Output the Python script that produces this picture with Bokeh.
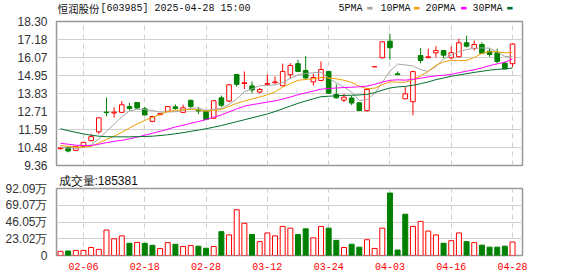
from bokeh.plotting import figure
from bokeh.layouts import column
from bokeh.models import FixedTicker, Label, ColumnDataSource, Range1d, Title
from bokeh.embed import file_html
from bokeh.resources import INLINE

# ---------------- data ----------------
dates = ["01-24", "01-27", "02-05", "02-06", "02-07", "02-10", "02-11", "02-12", "02-13", "02-14",
         "02-17", "02-18", "02-19", "02-20", "02-21", "02-24", "02-25", "02-26", "02-27", "02-28",
         "03-03", "03-04", "03-05", "03-06", "03-07", "03-10", "03-11", "03-12", "03-13", "03-14",
         "03-17", "03-18", "03-19", "03-20", "03-21", "03-24", "03-25", "03-26", "03-27", "03-28",
         "03-31", "04-01", "04-02", "04-03", "04-07", "04-08", "04-09", "04-10", "04-11", "04-14",
         "04-15", "04-16", "04-17", "04-18", "04-21", "04-22", "04-23", "04-24", "04-25", "04-28"]

opens = [10.40, 10.50, 10.30, 10.55, 10.90, 11.45, 12.68, 12.62, 12.66, 13.02,
         13.27, 12.88, 12.10, 12.52, 12.72, 13.00, 12.66, 13.40, 12.80, 12.72,
         12.30, 13.56, 13.36, 15.01, 14.45, 14.30, 13.92, 14.40, 14.50, 14.31,
         15.00, 15.68, 15.26, 14.55, 14.64, 15.20, 13.77, 13.42, 13.55, 13.25,
         12.77, 15.49, 16.05, 17.08, 15.05, 13.50, 13.32, 16.19, 16.05, 16.36,
         16.50, 16.05, 16.11, 16.98, 16.62, 16.87, 16.46, 16.36, 15.71, 15.68]
highs = [10.50, 10.55, 10.56, 10.82, 11.33, 12.34, 13.58, 12.98, 13.36, 13.25,
         13.30, 13.00, 12.45, 12.62, 13.04, 13.15, 13.13, 13.47, 12.98, 12.80,
         13.40, 13.70, 14.40, 15.05, 15.20, 14.57, 14.17, 15.01, 14.89, 15.68,
         15.71, 15.92, 16.15, 15.05, 15.82, 15.22, 14.39, 13.81, 13.70, 13.28,
         14.10, 15.49, 17.05, 17.54, 15.20, 14.23, 15.24, 16.65, 16.61, 16.77,
         16.52, 16.75, 17.23, 17.42, 17.12, 17.01, 16.61, 16.61, 15.82, 16.95]
lows = [10.35, 10.18, 10.28, 10.52, 10.88, 11.33, 12.42, 12.32, 12.62, 12.77,
        12.85, 12.48, 12.05, 12.48, 12.70, 12.82, 12.62, 12.90, 12.55, 12.18,
        12.25, 12.98, 13.30, 14.25, 14.10, 13.85, 13.83, 14.32, 14.43, 14.28,
        14.74, 15.15, 14.68, 14.32, 14.60, 13.80, 13.52, 13.30, 13.10, 12.75,
        12.70, 15.49, 16.00, 15.93, 15.00, 13.48, 12.48, 15.71, 16.02, 16.08,
        16.03, 15.94, 16.08, 16.69, 16.50, 16.30, 16.11, 15.71, 15.33, 15.47]
closes = [10.45, 10.26, 10.53, 10.80, 11.15, 12.32, 12.64, 12.67, 13.13, 12.90,
          12.93, 12.50, 12.40, 12.58, 13.02, 12.90, 12.94, 13.03, 12.75, 12.22,
          13.38, 13.10, 14.37, 14.40, 14.50, 14.05, 14.08, 14.45, 14.55, 15.20,
          15.57, 15.20, 14.80, 14.82, 15.32, 13.85, 13.56, 13.60, 13.24, 12.77,
          14.08, 15.49, 17.04, 16.67, 15.00, 13.81, 15.19, 15.88, 16.11, 16.50,
          16.21, 16.36, 16.98, 16.77, 16.87, 16.33, 16.25, 15.82, 15.36, 16.90]
prev_close_first = 10.38

ma5 = [10.50, 10.45, 10.43, 10.48, 10.64, 11.01, 11.49, 11.92, 12.38, 12.74,
       12.86, 12.83, 12.78, 12.67, 12.68, 12.70, 12.78, 12.91, 12.94, 12.78,
       12.86, 12.90, 13.16, 13.49, 13.94, 14.12, 14.31, 14.33, 14.37, 14.51,
       14.77, 14.99, 15.07, 15.12, 15.15, 14.80, 14.48, 14.23, 13.91, 13.40,
       13.45, 13.83, 14.52, 15.21, 15.66, 15.60, 15.54, 15.31, 15.20, 15.50,
       15.98, 16.21, 16.43, 16.56, 16.64, 16.66, 16.64, 16.41, 16.13, 16.13]
ma10 = [10.60, 10.55, 10.50, 10.50, 10.55, 10.75, 10.98, 11.18, 11.42, 11.69,
        11.94, 12.16, 12.35, 12.53, 12.71, 12.78, 12.81, 12.85, 12.81, 12.73,
        12.78, 12.84, 13.04, 13.22, 13.36, 13.49, 13.61, 13.75, 13.93, 14.23,
        14.44, 14.65, 14.70, 14.74, 14.83, 14.79, 14.74, 14.65, 14.52, 14.28,
        14.13, 14.16, 14.38, 14.56, 14.53, 14.53, 14.69, 14.92, 15.20, 15.58,
        15.79, 15.88, 15.87, 15.88, 16.07, 16.32, 16.43, 16.42, 16.35, 16.39]
ma20 = [10.74, 10.68, 10.62, 10.60, 10.60, 10.68, 10.78, 10.86, 10.92, 11.02,
        11.12, 11.24, 11.36, 11.48, 11.62, 11.75, 11.86, 11.98, 12.09, 12.21,
        12.36, 12.50, 12.69, 12.87, 13.04, 13.14, 13.21, 13.30, 13.37, 13.48,
        13.61, 13.75, 13.87, 13.98, 14.10, 14.14, 14.17, 14.20, 14.22, 14.25,
        14.29, 14.40, 14.54, 14.65, 14.68, 14.66, 14.71, 14.78, 14.86, 14.93,
        14.96, 15.02, 15.12, 15.22, 15.30, 15.42, 15.56, 15.67, 15.77, 15.98]
ma30 = [11.64, 11.52, 11.42, 11.32, 11.24, 11.18, 11.15, 11.14, 11.14, 11.14,
        11.15, 11.16, 11.18, 11.22, 11.27, 11.33, 11.40, 11.48, 11.56, 11.64,
        11.74, 11.84, 11.96, 12.08, 12.20, 12.32, 12.44, 12.56, 12.71, 12.88,
        13.05, 13.22, 13.36, 13.50, 13.63, 13.66, 13.69, 13.71, 13.72, 13.74,
        13.78, 13.88, 14.04, 14.17, 14.24, 14.27, 14.34, 14.44, 14.55, 14.69,
        14.79, 14.90, 14.98, 15.06, 15.14, 15.21, 15.28, 15.33, 15.36, 15.41]

volumes = [58000, 62000, 70000, 70000, 110000, 84000, 350000, 230000, 270000, 168000,
           180000, 168000, 140000, 97000, 177000, 155000, 124000, 137000, 128000, 100000,
           124000, 328000, 283000, 629000, 443000, 288000, 190000, 310000, 270000, 400000,
           376000, 288000, 367000, 243000, 400000, 376000, 208000, 110000, 155000, 115000,
           217000, 97000, 376000, 859000, 75000, 567000, 400000, 469000, 336000, 283000,
           168000, 204000, 310000, 190000, 177000, 142000, 115000, 115000, 128000, 185381]

price_ticks = [9.36, 10.48, 11.59, 12.71, 13.83, 14.95, 16.07, 17.18, 18.30]
vol_ticks = [0, 230225, 460450, 690675, 920900]
vol_tick_labels = ["0", "23.02万", "46.05万", "69.07万", "92.09万"]
date_tick_labels = ["02-06", "02-18", "02-28", "03-12", "03-24", "04-03", "04-16", "04-28"]

title_name = "恒润股份"
title_rest = "[603985] 2025-04-28 15:00"
ma_names = ["5PMA", "10PMA", "20PMA", "30PMA"]
vol_title = "成交量:185381"

# ---------------- styles ----------------
RED = "#ff0000"
GREEN = "#008000"
MA_COLORS = ["#a6a6a6", "#f0a000", "#ff00ff", "#006e2e"]
GRID = "#d0d0d0"
BORDER = "#999999"
TXT = "#333333"
LEFT = 56
RIGHT = 56

xs = list(range(len(dates)))
up = [c >= o for o, c in zip(opens, closes)]
cdl_color = [RED if u else GREEN for u in up]
cdl_fill = ["white" if u else GREEN for u in up]
prevs = [prev_close_first] + closes[:-1]
vup = [c >= pc for c, pc in zip(closes, prevs)]
vol_color = [RED if u else GREEN for u in vup]
vol_fill = ["white" if u else GREEN for u in vup]

src = ColumnDataSource(dict(
    x=xs, o=opens, h=highs, l=lows, c=closes,
    top=[max(o, c) for o, c in zip(opens, closes)],
    bot=[min(o, c) for o, c in zip(opens, closes)],
    col=cdl_color, fill=cdl_fill,
    ma5=ma5, ma10=ma10, ma20=ma20, ma30=ma30,
    vol=volumes, vcol=vol_color, vfill=vol_fill,
))

tick_idx = [dates.index(d) for d in date_tick_labels]
xr = Range1d(-0.52, 60.3)

# ---------------- header strip (title + MA legend) ----------------
HEADER_H = 15
h = figure(width=578, height=HEADER_H, x_range=Range1d(0, 1), y_range=Range1d(0, 1),
           output_backend="svg", toolbar_location=None,
           x_axis_location=None, y_axis_location=None,
           min_border_left=LEFT, min_border_right=RIGHT, min_border_top=0, min_border_bottom=0)
h.outline_line_color = None
h.grid.visible = False
h.border_fill_color = "white"
TY = 7.5   # vertical centre of the header texts (from the strip's bottom)
h.add_layout(Label(x=57 - LEFT, y=TY, x_units="screen", y_units="screen", text=title_name,
                   text_font="Noto Sans CJK SC", text_font_size="10.5px", text_color="#111",
                   text_baseline="middle"))
h.add_layout(Label(x=100 - LEFT, y=TY, x_units="screen", y_units="screen", text=title_rest,
                   text_font="Liberation Mono", text_font_size="10px", text_color="#111",
                   text_baseline="middle"))
leg_x = [338, 380, 425, 472]
sq_x = [366, 413, 460, 506]
for name, col, lx, sx in zip(ma_names, MA_COLORS, leg_x, sq_x):
    h.add_layout(Label(x=lx - LEFT, y=TY, x_units="screen", y_units="screen", text=name,
                       text_font="Liberation Mono", text_font_size="10px", text_color="#111",
                       text_baseline="middle"))
    h.add_layout(Label(x=sx - LEFT, y=TY, x_units="screen", y_units="screen", text="▬",
                       text_font="DejaVu Sans", text_font_size="7px", text_color=col,
                       text_baseline="middle"))

# ---------------- price panel ----------------
p = figure(width=578, height=157, x_range=xr, y_range=Range1d(price_ticks[0], price_ticks[-1]),
           output_backend="svg", toolbar_location=None, x_axis_location=None,
           min_border_left=LEFT, min_border_right=RIGHT, min_border_top=6, min_border_bottom=7)
p.outline_line_color = BORDER
p.outline_line_width = 1.5
p.background_fill_color = "white"
p.border_fill_color = "white"

p.yaxis.ticker = FixedTicker(ticks=price_ticks)
p.yaxis.major_label_overrides = {t: "%.2f" % t for t in price_ticks}
p.yaxis.axis_line_color = None
p.yaxis.major_tick_line_color = None
p.yaxis.minor_tick_line_color = None
p.yaxis.major_label_standoff = 3
p.yaxis.major_label_text_font = "Liberation Sans"
p.yaxis.major_label_text_font_size = "12px"
p.yaxis.major_label_text_color = TXT

p.ygrid.ticker = FixedTicker(ticks=price_ticks)
p.ygrid.grid_line_color = GRID
p.xgrid.ticker = FixedTicker(ticks=tick_idx)
p.xgrid.grid_line_color = GRID
p.xgrid.grid_line_dash = "5 4"

p.segment(x0="x", y0="l", x1="x", y1="h", color="col", line_width=1, source=src)
p.vbar(x="x", width=0.6, top="top", bottom="bot", fill_color="fill", line_color="col",
       line_width=1, source=src)
for name, col in zip(["ma5", "ma10", "ma20", "ma30"], MA_COLORS):
    p.line(x="x", y=name, color=col, line_width=1, source=src)

# ---------------- volume panel ----------------
v = figure(width=578, height=104, x_range=xr, y_range=Range1d(vol_ticks[0], vol_ticks[-1]),
           output_backend="svg", toolbar_location=None,
           min_border_left=LEFT, min_border_right=RIGHT, min_border_top=14, min_border_bottom=21)
v.outline_line_color = BORDER
v.outline_line_width = 1.5
v.border_fill_color = "white"

v.add_layout(Title(text=vol_title, align="left", offset=2, standoff=0,
                   vertical_align="middle",
                   text_font="Liberation Sans", text_font_size="12px",
                   text_font_style="normal", text_color="#111"), "above")

v.yaxis.ticker = FixedTicker(ticks=vol_ticks)
v.yaxis.major_label_overrides = dict(zip(vol_ticks, vol_tick_labels))
v.yaxis.axis_line_color = None
v.yaxis.major_tick_line_color = None
v.yaxis.minor_tick_line_color = None
v.yaxis.major_label_standoff = 3
v.yaxis.major_label_text_font = "Liberation Sans"
v.yaxis.major_label_text_font_size = "12px"
v.yaxis.major_label_text_color = TXT

v.xaxis.ticker = FixedTicker(ticks=tick_idx)
v.xaxis.major_label_overrides = dict(zip(tick_idx, date_tick_labels))
v.xaxis.axis_line_color = None
v.xaxis.major_tick_line_color = None
v.xaxis.minor_tick_line_color = None
v.xaxis.major_label_standoff = 1
v.xaxis.major_label_text_font = "Liberation Mono"
v.xaxis.major_label_text_font_size = "10px"
v.xaxis.major_label_text_color = RED

v.ygrid.ticker = FixedTicker(ticks=vol_ticks)
v.ygrid.grid_line_color = GRID
v.xgrid.ticker = FixedTicker(ticks=tick_idx)
v.xgrid.grid_line_color = GRID
v.xgrid.grid_line_dash = "5 4"

v.vbar(x="x", width=0.65, top="vol", bottom=0, fill_color="vfill", line_color="vcol",
       line_width=1, source=src)

layout = column(h, p, v, spacing=0)
open("out.html", "w").write(file_html(layout, INLINE))
